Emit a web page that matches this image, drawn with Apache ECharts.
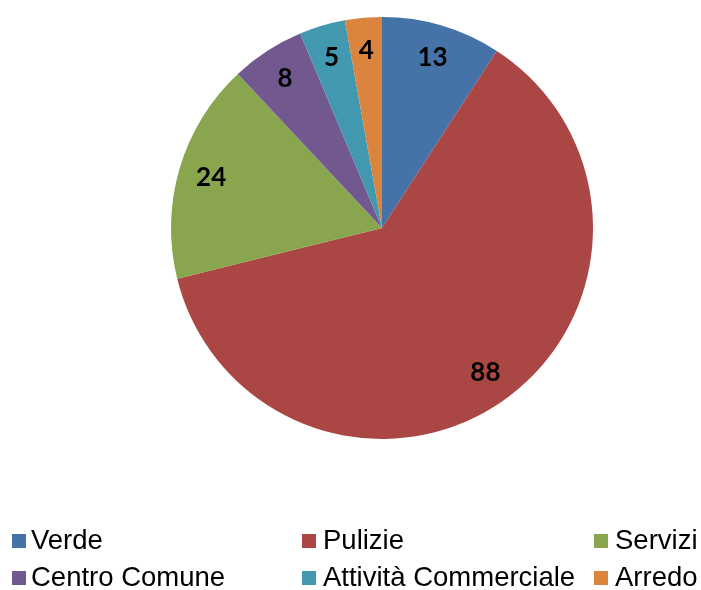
<!DOCTYPE html>
<html>
<head>
<meta charset="utf-8">
<script src="https://cdn.jsdelivr.net/npm/echarts@6/dist/echarts.min.js"></script>
<style>
html,body{margin:0;padding:0;background:#fff;}
#main{width:701px;height:590px;}
</style>
</head>
<body>
<div id="main"></div>
<script>
var categories = ['Verde', 'Pulizie', 'Servizi', 'Centro Comune', 'Attività Commerciale', 'Arredo'];
var values = [13, 88, 24, 8, 5, 4];
var colors = ['#4572A7', '#AA4643', '#89A54E', '#71588F', '#4198AF', '#DB843D'];

var chart = echarts.init(document.getElementById('main'), null, {renderer: 'canvas'});
var R = 211;
var data = categories.map(function (c, i) {
  return {name: c, value: values[i], itemStyle: {color: colors[i]}};
});
var labelData = categories.map(function (c, i) {
  return {name: c, value: values[i]};
});

var colLeft = [12, 302, 594];
var colPad = [0, 2, 2];
var rowTop = [527, 564];

var legends = categories.map(function (c, i) {
  var col = i % 3, row = Math.floor(i / 3);
  return {
    orient: 'horizontal',
    left: colLeft[col],
    top: rowTop[row],
    padding: 0,
    itemWidth: 14,
    itemHeight: 14,
    icon: 'rect',
    data: [c],
    textStyle: {fontFamily: 'Liberation Sans', fontSize: 27.5, color: '#000', lineHeight: 28, padding: [0, 0, 0, colPad[col]]},
    selectedMode: false
  };
});

chart.setOption({
  animation: false,
  color: colors,
  legend: legends,
  series: [
    {
      type: 'pie',
      center: [382, 228],
      radius: [0, R],
      startAngle: 90,
      clockwise: true,
      data: data,
      label: {show: false},
      labelLine: {show: false},
      emphasis: {disabled: true},
      silent: true
    },
    {
      type: 'pie',
      center: [382, 228],
      radius: [R * 0.66, R],
      startAngle: 90,
      clockwise: true,
      data: labelData,
      itemStyle: {color: 'rgba(0,0,0,0)'},
      label: {
        show: true,
        position: 'inside',
        formatter: '{c}',
        fontFamily: 'Lato',
        fontWeight: 'bold',
        fontSize: 26,
        color: '#000'
      },
      labelLine: {show: false},
      emphasis: {disabled: true},
      silent: true
    }
  ]
});
</script>
</body>
</html>
